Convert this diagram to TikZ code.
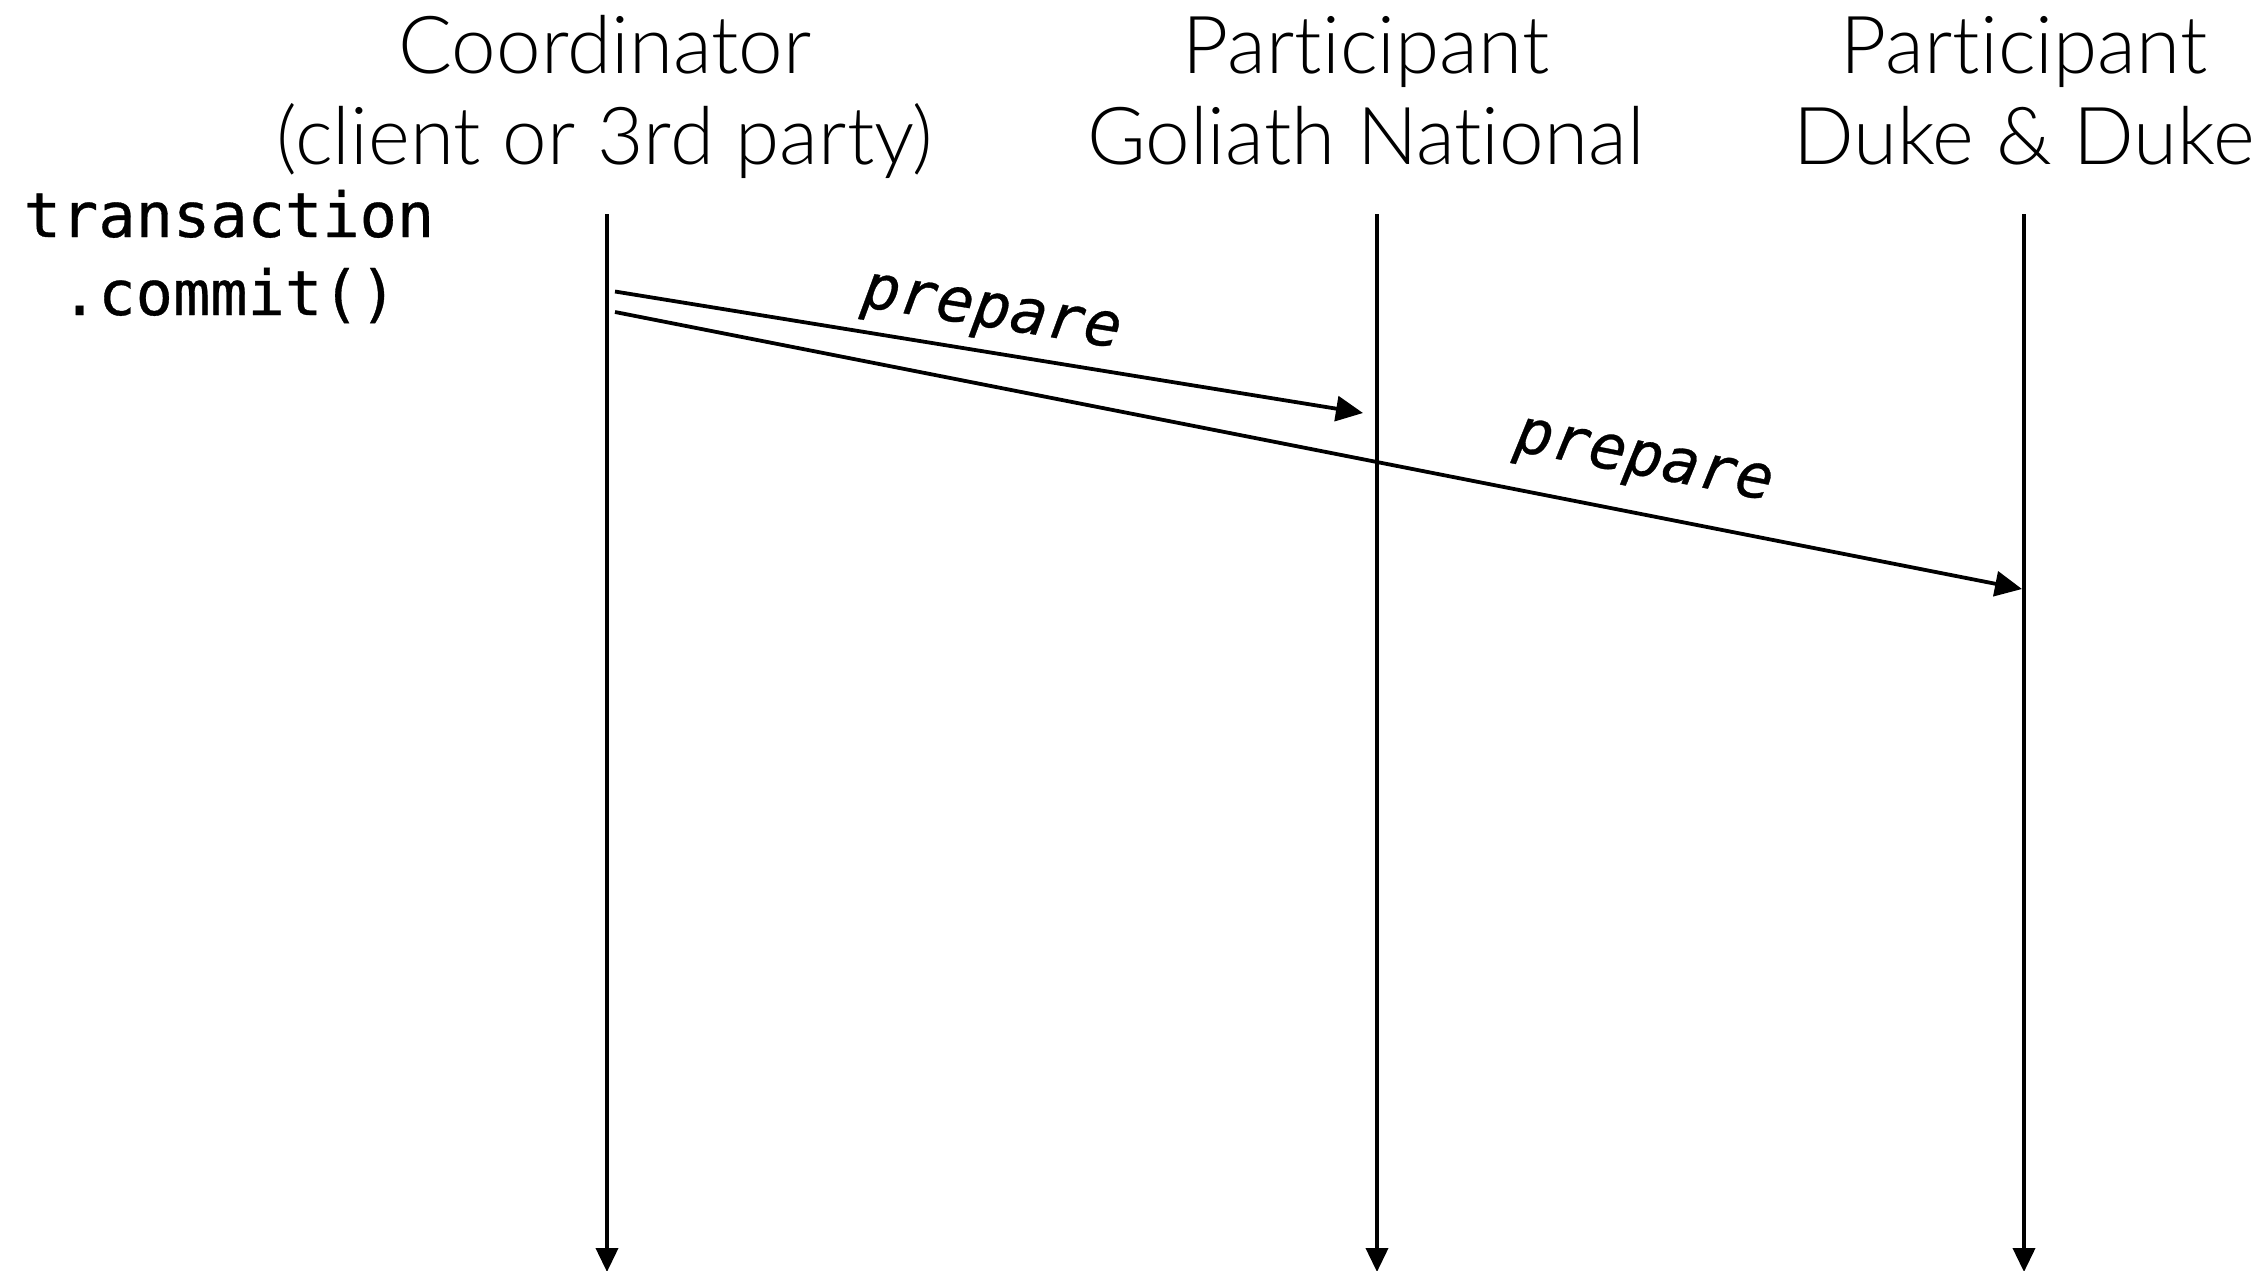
\documentclass[tikz,border=0pt]{standalone}
\usepackage{fontspec}
\setmainfont{Lato}[UprightFont=* Light, Ligatures=NoCommon]
\newfontfamily\codefont{DejaVu Sans Mono}[FakeBold=0.5]
\usetikzlibrary{arrows.meta}
\begin{document}
\begin{tikzpicture}[x=1pt,y=-1pt,
  header/.style={font=\fontsize{80}{91}\selectfont, inner sep=0pt, anchor=base},
  code/.style={font=\codefont\fontsize{62}{78}\selectfont, inner sep=0pt, anchor=base},
  lifeline/.style={line width=3.8pt, -{Triangle[length=24pt,width=22pt]}},
  msg/.style={line width=3.8pt, -{Triangle[length=27pt,width=25pt]}},
  msglabel/.style={font=\codefont\itshape\fontsize{62}{78}\selectfont, inner sep=0pt, sloped}]
\useasboundingbox (0,0) rectangle (2263,1270);

% actor headers
\node[header] (coordA) at (605,73) {Coordinator};
\node[header] (coordB) at (605,164) {(client or 3rd party)};
\node[header] (golA) at (1366,73) {Participant};
\node[header] (golB) at (1366,164) {Goliath National};
\node[header] (dukeA) at (2024,73) {Participant};
\node[header] (dukeB) at (2024,164) {Duke \& Duke};

% call that starts the protocol
\node[code] (txA) at (229,237) {transaction};
\node[code] (txB) at (229,315) {.commit()};

% lifelines
\coordinate (coordTop) at (607,214);
\coordinate (coordEnd) at (607,1272);
\coordinate (golTop) at (1377,214);
\coordinate (golEnd) at (1377,1272);
\coordinate (dukeTop) at (2024,214);
\coordinate (dukeEnd) at (2024,1272);
\draw[lifeline] (coordTop) -- (coordEnd);
\draw[lifeline] (golTop) -- (golEnd);
\draw[lifeline] (dukeTop) -- (dukeEnd);

% prepare messages
\coordinate (send1) at (615,291.5);
\coordinate (recv1) at (1363,413);
\coordinate (send2) at (615,312);
\coordinate (recv2) at (2022,589);
\draw[msg] (send1) -- node[msglabel, pos=0.495, above=10pt] (prep1) {prepare} (recv1);
\draw[msg] (send2) -- node[msglabel, pos=0.724, above=23pt] (prep2) {prepare} (recv2);
\end{tikzpicture}
\end{document}
